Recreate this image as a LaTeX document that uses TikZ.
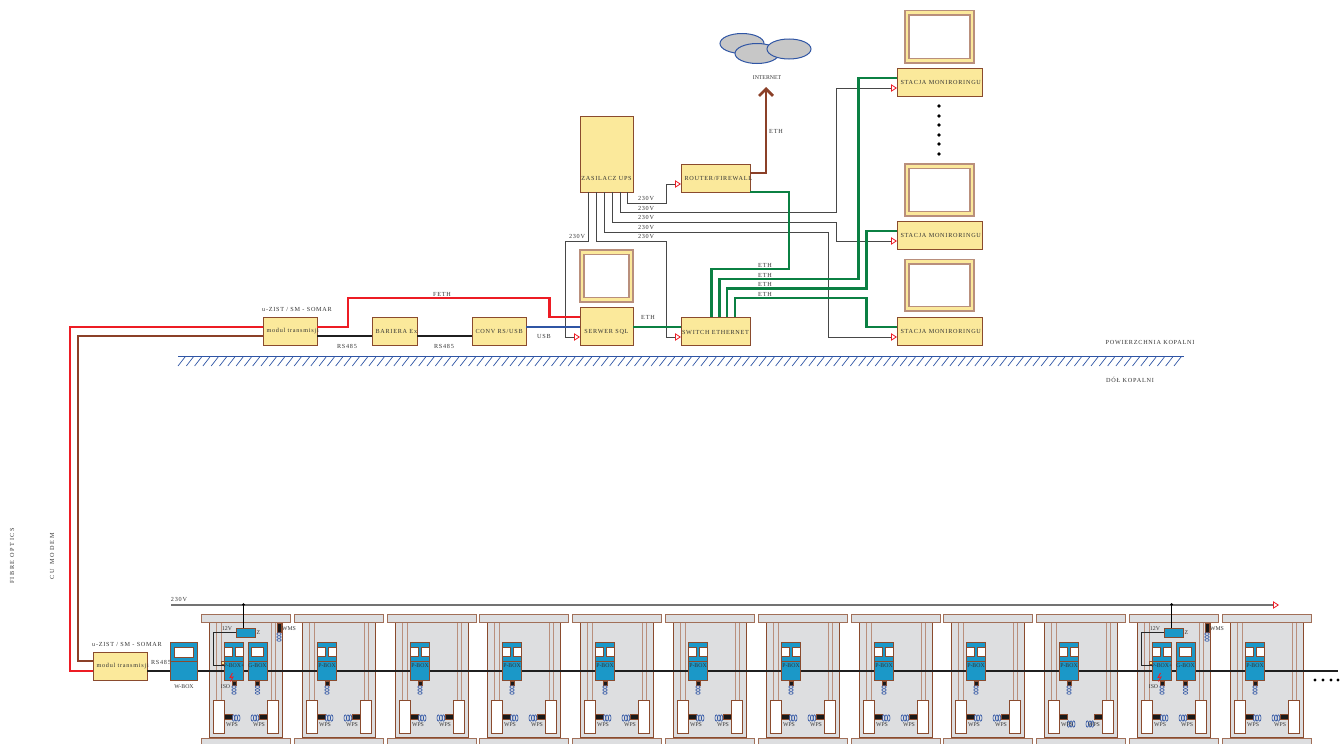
\documentclass[tikz,border=0pt]{standalone}
\usepackage{fontspec}
\setmainfont[LetterSpace=12]{Liberation Serif}
\usetikzlibrary{arrows.meta}
\definecolor{boxy}{HTML}{FBE99B}
\definecolor{boxb}{HTML}{8A4B2E}
\definecolor{halo}{HTML}{B98F7C}
\definecolor{cellb}{HTML}{DDDEE0}
\definecolor{pbl}{HTML}{1B98C8}
\definecolor{wavec}{HTML}{2F55A4}
\definecolor{gline}{HTML}{0B8043}
\definecolor{rline}{HTML}{ED1C24}
\definecolor{bline}{HTML}{8B4028}
\definecolor{txtc}{HTML}{333333}
\newcounter{lab}
\newcommand\lab[4][]{\stepcounter{lab}\node[txt,#1] (lab\thelab) at (#2,#3) {#4};}
\newcommand\tlab[3]{\stepcounter{lab}\node[txt,font=\fontsize{5.8}{7}\selectfont\addfontfeature{LetterSpace=0}] (lab\thelab) at (#1,#2) {#3};}
% name, x1, y1, x2, y2, text
\newcommand\ybox[6]{%
  \pgfmathsetmacro\bw{#4-#2}\pgfmathsetmacro\bh{#5-#3}%
  \pgfmathsetmacro\bx{(#2+#4)/2}\pgfmathsetmacro\by{(#3+#5)/2}%
  \node[yellowbox,minimum width=\bw pt,minimum height=\bh pt] (#1) at (\bx,\by)
    {\makebox[\bw pt][l]{\hspace{3.5pt}#6}};}
\newcommand\monitor[5]{%
  \pgfmathsetmacro\bw{#4-#2}\pgfmathsetmacro\bh{#5-#3}%
  \pgfmathsetmacro\bx{(#2+#4)/2}\pgfmathsetmacro\by{(#3+#5)/2}%
  \pgfmathsetmacro\cw{\bw-8}\pgfmathsetmacro\ch{\bh-9}%
  \node[yellowbox,draw=halo,line width=1.1pt,minimum width=\bw pt,minimum height=\bh pt] (#1) at (\bx,\by) {};
  \node[winbox,draw=halo,line width=1.1pt,minimum width=\cw pt,minimum height=\ch pt] (#1w) at (\bx,\by) {};}
\newcommand\wavesv[2]{\foreach \j in {0,3,6}{\draw[wave] (#1,#2+\j) ellipse (2.2 and 1.3);}}
\newcommand\wavesh[3]{\foreach \j in {0,2.6,5.2}{\draw[wave] (#1+#3*\j,#2) ellipse (1.3 and 3.2);}}
\tikzset{
  txt/.style={font=\fontsize{6.2}{7}\selectfont,text=txtc,inner sep=0pt},
  yellowbox/.style={draw=boxb,fill=boxy,line width=1pt,inner sep=0pt,outer sep=0pt,
    font=\fontsize{6.2}{7}\selectfont,text=txtc},
  winbox/.style={draw=boxb,fill=white,line width=1pt,inner sep=0pt,outer sep=0pt},
  bluebox/.style={draw=boxb,fill=pbl,line width=1pt,inner sep=0pt,outer sep=0pt},
  conn/.style={draw=black!72,line width=0.9pt},
  open/.style={-{Triangle[open,length=6pt,width=7.5pt,color=rline,line width=0.8pt]}},
  eth/.style={draw=gline,line width=2.6pt},
  redl/.style={draw=rline,line width=2.7pt},
  brownl/.style={draw=bline,line width=2.7pt},
  bluel/.style={draw=wavec,line width=2.7pt},
  blackl/.style={draw=black!88,line width=2.9pt},
  wave/.style={draw=wavec,line width=0.6pt},
  cloudp/.style={draw=wavec,fill=black!22,line width=1pt},
  cellp/.style={draw=boxb,fill=cellb,line width=1pt},
  post/.style={draw=halo,fill=cellb,line width=1pt},
  blk/.style={fill=black!90,draw=boxb,line width=0.3pt},
  dotp/.style={fill=black,draw=none}
}
\begin{document}
\begin{tikzpicture}[x=1pt,y=-1pt]
\useasboundingbox (0,0) rectangle (1344,744);
\clip (0,0) rectangle (1344,744);
% --- cloud
\draw[cloudp] (742,43.5) ellipse (22 and 10);
\draw[cloudp] (757,53.5) ellipse (22 and 10);
\draw[cloudp] (789,49) ellipse (22 and 10);
\tlab{767}{78}{INTERNET}
% --- upper boxes
\ybox{ups}{580}{116}{633}{192}{}
\monitor{mon0}{580}{250}{633}{302}
\ybox{srv}{580}{307}{633}{345}{}
\ybox{router}{681}{164}{750}{192}{ROUTER/FIREWALL}
\ybox{switch}{681}{317}{750}{345}{}
\ybox{st1}{897}{68}{982}{96}{STACJA MONIRORINGU}
\ybox{st2}{897}{221}{982}{249}{STACJA MONIRORINGU}
\ybox{st3}{897}{317}{982}{345}{STACJA MONIRORINGU}
\monitor{mon1}{905}{10.5}{974}{63}
\monitor{mon2}{905}{164}{974}{216}
\monitor{mon3}{905}{259.5}{974}{311}
\ybox{modul}{263}{317}{317}{345}{modul transmisji}
\ybox{bar}{372}{317}{417}{345}{BARIERA Ex}
\ybox{conv}{472}{317}{526}{345}{CONV RS/USB}
\ybox{modulb}{93}{652}{147}{680}{modul transmisji}
\lab{606.5}{178}{ZASILACZ UPS}
\lab{606.5}{332}{SERWER SQL}
\lab{715.5}{332}{SWITCH ETHERNET}
\foreach \y in {106,116,125,135,144,154}{\fill[dotp] (939,\y) circle (1.8);}
% --- 230 V feeds from the UPS
\draw[conn,open] (588.5,0 |- ups.south) -- (588.5,241) -- (565,241) -- (565,337) -- (srv.west |- 0,337);
\draw[conn,open] (596,0 |- ups.south) -- (596,241) -- (666,241) -- (666,337) -- (switch.west |- 0,337);
\draw[conn,open] (604,0 |- ups.south) -- (604,232) -- (828,232) -- (828,337) -- (st3.west |- 0,337);
\draw[conn,open] (612,0 |- ups.south) -- (612,222) -- (836,222) -- (836,241) -- (st2.west |- 0,241);
\draw[conn,open] (620,0 |- ups.south) -- (620,212.5) -- (836,212.5) -- (836,88) -- (st1.west |- 0,88);
\draw[conn,open] (627,0 |- ups.south) -- (627,203) -- (666,203) -- (666,184) -- (router.west |- 0,184);
\lab{646}{198.5}{230V}\lab{646}{208}{230V}\lab{646}{217.5}{230V}\lab{646}{227}{230V}\lab{646}{236.5}{230V}
\lab{577}{236}{230V}
% --- ethernet
\draw[eth] (srv.east |- 0,327) -- (switch.west |- 0,327);
\draw[eth] (router.east |- 0,192) -- (789,192) -- (789,269) -- (711.5,269) -- (711.5,0 |- switch.north);
\draw[eth] (719.5,0 |- switch.north) -- (719.5,279) -- (858.5,279) -- (858.5,78) -- (st1.west |- 0,78);
\draw[eth] (727,0 |- switch.north) -- (727,288.5) -- (866.5,288.5) -- (866.5,231) -- (st2.west |- 0,231);
\draw[eth] (735,0 |- switch.north) -- (735,298) -- (866.5,298) -- (866.5,327) -- (st3.west |- 0,327);
\draw[brownl,-{Straight Barb[length=7pt,width=14pt]}] (router.east |- 0,173) -- (766,173) -- (766,87);
\lab{776}{131}{ETH}
\lab{765}{265.5}{ETH}\lab{765}{275}{ETH}\lab{765}{284.5}{ETH}\lab{765}{294}{ETH}
\lab{648}{317}{ETH}
% --- transmission links
\draw[redl] (modul.east |- 0,327) -- (348,327) -- (348,298) -- (549.5,298) -- (549.5,317) -- (srv.west |- 0,317);
\draw[blackl] (modul.east |- 0,336) -- (bar.west |- 0,336);
\draw[blackl] (bar.east |- 0,336) -- (conv.west |- 0,336);
\draw[bluel] (conv.east |- 0,327) -- (srv.west |- 0,327);
\draw[redl] (modul.west |- 0,327) -- (70,327) -- (70,671) -- (modulb.west |- 0,671);
\draw[brownl] (modul.west |- 0,336) -- (78,336) -- (78,661) -- (modulb.west |- 0,661);
\lab{297}{309}{u-ZIST / SM - SOMAR}
\lab{127}{644}{u-ZIST / SM - SOMAR}
\lab{442}{294}{FETH}
\lab{347}{346}{RS485}
\lab{444}{346}{RS485}
\lab{544}{336.5}{USB}
% --- ground line
\draw[wavec,line width=1pt] (178,356) -- (1184,356);
\foreach \h in {0,1,...,120}{\draw[wavec,line width=0.7pt] (178+\h*8.3,366) -- (185+\h*8.3,357);}
\lab{1150}{342}{POWIERZCHNIA KOPALNI}
\lab{1130}{380}{DÓŁ KOPALNI}
\lab[rotate=90]{12}{556}{\addfontfeature{LetterSpace=25}FIBRE OPTICS}
\lab[rotate=90]{52}{556}{\addfontfeature{LetterSpace=35}CU MODEM}
% --- 230 V mine line
\coordinate (vend) at (1279,605);
\coordinate (vstart) at (171,605);
\draw[draw=black!55,line width=1.4pt,open] (vstart) -- (vend);
\lab{179}{599}{230V}
\lab{161}{662}{RS485}
% --- cell frames
\foreach \x in {201,294,387,479,572,665,758,851,943,1036,1129,1222}{
\begin{scope}[shift={(\x,0)}]
  \draw[cellp] (8,622) rectangle (81,737);
  \draw[post] (15,622) rectangle (20,700);
  \draw[post] (70,622) rectangle (74,700);
  \draw[cellp,draw=boxb!80] (0,614) rectangle (89,622.5);
  \draw[cellp,draw=boxb!80] (0,738) rectangle (89,750);
  \draw[winbox] (12,700) rectangle (23,733);
  \draw[winbox] (66,700) rectangle (77,733);
\end{scope}}
% --- bus
\coordinate (busend) at (1338,671);
\draw[blackl] (modulb.east |- 0,671) -- (busend);
\foreach \d in {1315,1323,1331,1338}{\fill[dotp] (\d,680) circle (1.6);}
% --- W-BOX
\node[bluebox,minimum width=27pt,minimum height=38pt] (wbox) at (183.5,661) {};
\draw[boxb,line width=0.9pt] (wbox.west) -- (wbox.east);
\node[winbox,minimum width=19pt,minimum height=10pt] (wboxw) at (183.5,652) {};
\tlab{184}{687}{W-BOX}
% --- cell content
\foreach \x/\wy/\hasz [count=\i] in {201/0/1,294/0/0,387/0/0,479/0/0,572/0/0,665/0/0,758/0/0,851/0/0,943/0/0,1036/6/0,1129/0/1,1222/0/0}{
\begin{scope}[shift={(\x,0)}]
  % WPS left and right
  \draw[blk] (23,714) rectangle (31,719);
  \draw[blk] (58,714) rectangle (66,719);
  \wavesh{32.5}{718+\wy}{1}
  \wavesh{56.5}{718+\wy}{-1}
  \tlab{31}{725}{WPS}
  \tlab{58}{725}{WPS}
  % P-BOX
  \node[bluebox,minimum width=19.5pt,minimum height=38pt] (pbox\i) at (33,661) {};
  \draw[boxb,line width=0.9pt] (pbox\i.west) -- (pbox\i.east);
  \node[winbox,minimum width=7.5pt,minimum height=9pt] (pwa\i) at (27.5,651.5) {};
  \node[winbox,minimum width=7.5pt,minimum height=9pt] (pwb\i) at (38.5,651.5) {};
  \draw[blk] (31,681) rectangle (35,685.5);
  \wavesv{33}{687}
  \ifnum\hasz=1
    \tlab{33}{666}{P-BOX+}
    \node[bluebox,minimum width=19pt,minimum height=38pt] (gbox\i) at (56.5,661) {};
    \draw[boxb,line width=0.9pt] (gbox\i.west) -- (gbox\i.east);
    \node[winbox,minimum width=12pt,minimum height=9pt] (gw\i) at (56.5,651.5) {};
    \tlab{56.5}{666}{G-BOX}
    \draw[blk] (54.5,681) rectangle (58.5,685.5);
    \wavesv{56.5}{687}
    \node[bluebox,minimum width=19pt,minimum height=9pt] (z\i) at (44.5,632.5) {};
    \coordinate (tap\i) at (42.5,604.5);
    \fill[dotp] (tap\i) circle (1.5);
    \draw[draw=black,line width=0.9pt] (tap\i) -- (tap\i |- z\i.north);
    \draw[draw=black!85,line width=0.8pt] (z\i.west) -- (12,632.5) -- (12,665) -- (pbox\i.west |- 0,665);
    \node[fill=boxy,draw=boxb,line width=0.3pt,minimum size=3pt,inner sep=0pt] (ysq\i) at (22,663) {};
    \tlab{26}{628.5}{12V}
    \tlab{57.5}{633}{Z}
    \tlab{24.5}{687}{ISO}
    \draw[rline,line width=0.9pt] (31.5,673) -- (29,677.5) -- (32,677) -- (29.5,681.5);
    \draw[blk] (76,623) rectangle (80,632);
    \wavesv{78}{634}
    \tlab{88}{629}{WMS}
  \else
    \tlab{33}{666}{P-BOX}
  \fi
\end{scope}}
\end{tikzpicture}
\end{document}
